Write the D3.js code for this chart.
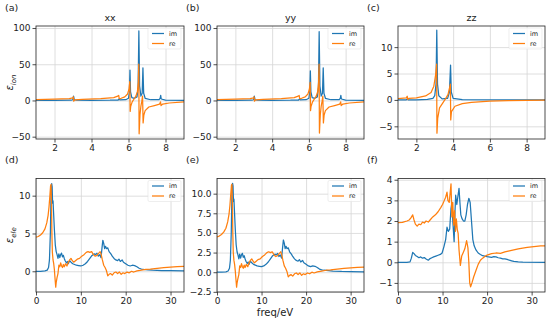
<!DOCTYPE html>
<html>
<head>
<meta charset="utf-8">
<script src="https://cdn.jsdelivr.net/npm/d3@7"></script>
<style>
  body { margin: 0; background: #fff; }
  svg { font-family: "DejaVu Sans", sans-serif; }
  .tick text { fill: #222; font-size: 9px; }
  .grid line { stroke: #d6d6d6; stroke-width: 0.8; }
  .grid path { display: none; }
</style>
</head>
<body>
<div id="chart"></div>
<script>
// ionic part, xx direction  [freq (eV), value]
var ionXXim = [[1,0.1],[2,0.15],[2.9,0.3],[2.99,1],[3.03,6],[3.07,1],[3.2,0.3],[4,0.2],[5,0.3],[5.44,0.6],[5.49,2],[5.54,0.7],[5.85,1],[6.0,3],[6.05,12],[6.08,42],[6.11,12],[6.18,4],[6.32,3],[6.46,5],[6.52,18],[6.56,96],[6.6,20],[6.67,6],[6.74,10],[6.78,45],[6.82,10],[6.9,3],[7.2,1],[7.65,1],[7.71,3],[7.74,7],[7.77,2],[8,0.5],[9,0.2]];
var ionXXre = [[1,1.2],[2,1.8],[2.8,2.5],[2.99,3.5],[3.02,5],[3.04,-1],[3.1,0.8],[3.5,1.5],[4.5,2.5],[5.2,4],[5.42,6],[5.47,7],[5.5,2.5],[5.6,3],[5.8,5],[5.95,9],[6.03,16],[6.07,26],[6.09,-15],[6.12,-8],[6.2,-2],[6.3,2],[6.4,6],[6.48,12],[6.53,25],[6.555,50],[6.575,-46],[6.62,-20],[6.67,-8],[6.72,-1],[6.76,6],[6.79,-31],[6.83,-20],[6.9,-14],[7.1,-9],[7.4,-7],[7.68,-5],[7.73,-2],[7.76,-7],[7.85,-5],[8.2,-3.5],[9,-2]];

// ionic part, yy direction
var ionYYim = [[1,0.1],[2,0.15],[2.9,0.3],[2.99,1],[3.03,6],[3.07,1],[3.2,0.3],[4,0.2],[5,0.3],[5.44,0.6],[5.49,2],[5.54,0.7],[5.85,1],[6.0,3],[6.05,12],[6.08,41],[6.11,12],[6.18,4],[6.32,3],[6.46,5],[6.52,18],[6.56,95],[6.6,20],[6.67,6],[6.74,10],[6.78,45],[6.82,10],[6.9,3],[7.2,1],[7.65,1],[7.71,3],[7.74,7],[7.77,2],[8,0.5],[9,0.2]];
var ionYYre = [[1,1.2],[2,1.8],[2.8,2.5],[2.99,3.5],[3.02,5],[3.04,-1],[3.1,0.8],[3.5,1.5],[4.5,2.5],[5.2,4],[5.42,6],[5.47,7],[5.5,2.5],[5.6,3],[5.8,5],[5.95,9],[6.03,16],[6.07,25],[6.09,-14],[6.12,-8],[6.2,-2],[6.3,2],[6.4,6],[6.48,12],[6.53,25],[6.555,50],[6.575,-45],[6.62,-20],[6.67,-8],[6.72,-1],[6.76,6],[6.79,-31],[6.83,-20],[6.9,-14],[7.1,-9],[7.4,-7],[7.68,-5],[7.73,-2],[7.76,-7],[7.85,-5],[8.2,-3.5],[9,-2]];

// ionic part, zz direction
var ionZZim = [[1,0],[1.45,0.02],[1.5,0.2],[1.55,0.02],[2,0.03],[2.6,0.1],[2.9,0.3],[3.0,0.8],[3.07,3],[3.11,13.2],[3.15,3],[3.22,0.8],[3.4,0.2],[3.7,0.3],[3.8,1.5],[3.86,6.6],[3.9,1.5],[4.0,0.3],[4.5,0.05],[9,0]];
var ionZZre = [[1,0.25],[1.45,0.4],[1.5,0.7],[1.53,0.1],[1.6,0.3],[2,0.4],[2.5,0.75],[2.8,1.4],[2.95,2.6],[3.05,4.8],[3.1,6.8],[3.12,-6.3],[3.16,-3.5],[3.26,-1.5],[3.45,-0.5],[3.6,0.3],[3.72,1],[3.8,2.2],[3.85,3],[3.87,-3.8],[3.91,-2.2],[4.1,-1.2],[4.5,-0.7],[5,-0.45],[6,-0.25],[7,-0.15],[8,-0.1],[9,-0.05]];

// electronic part, xx direction
var eleXXim = [[0,0],[1,0],[2,0.05],[2.5,0.15],[2.8,0.5],[3.0,1.5],[3.2,5],[3.35,10],[3.5,11.6],[3.6,11.2],[3.7,9],[3.8,9.3],[3.9,8],[4.1,5.5],[4.3,3.5],[4.5,2.6],[4.7,2.2],[4.9,1.7],[5.1,2.3],[5.3,1.8],[5.5,2.2],[5.7,2.4],[5.9,1.9],[6.1,2.1],[6.3,1.7],[6.5,1.4],[6.8,1.1],[7.0,1.3],[7.2,1.0],[7.5,1.4],[7.8,1.2],[8.2,1.0],[8.6,0.9],[9.0,0.8],[9.5,0.75],[10,0.7],[10.5,0.8],[11,1.0],[11.5,1.3],[12,1.7],[12.5,2.1],[13,2.3],[13.3,2.2],[13.6,2.4],[13.9,2.0],[14.2,2.2],[14.5,1.8],[14.7,3.0],[14.9,4.1],[15.1,3.7],[15.3,3.0],[15.5,3.3],[15.7,3.0],[16.0,3.1],[16.3,2.6],[16.7,2.3],[17.0,2.0],[17.4,1.7],[17.8,1.5],[18.2,1.4],[18.5,1.6],[18.8,1.3],[19.2,1.5],[19.5,1.2],[20,1.0],[20.5,0.8],[21,0.7],[21.5,0.8],[22,0.75],[22.5,0.6],[23,0.4],[23.5,0.3],[24,0.25],[25,0.2],[26,0.15],[28,0.1],[30,0.08],[33,0.05]];
var eleXXre = [[0,4.5],[0.5,4.6],[1,4.8],[1.5,5.1],[2,5.6],[2.4,6.4],[2.7,7.4],[2.9,8.5],[3.1,10],[3.25,11.3],[3.35,11.5],[3.45,9],[3.55,5],[3.65,2.5],[3.8,1.5],[3.95,1.0],[4.1,0.2],[4.25,-1.0],[4.4,-2.1],[4.5,-1.5],[4.7,-0.8],[4.9,-0.3],[5.1,0.8],[5.3,0.6],[5.5,1.1],[5.7,0.7],[5.9,0.5],[6.1,0.9],[6.3,0.6],[6.6,1.0],[6.9,0.7],[7.2,1.2],[7.5,1.5],[7.8,1.7],[8.1,1.4],[8.4,1.2],[8.8,1.4],[9.2,1.6],[9.7,1.7],[10.2,2.0],[10.7,2.2],[11.2,2.5],[11.6,2.6],[12,2.5],[12.4,2.6],[12.8,2.2],[13.2,2.0],[13.6,2.1],[14.0,2.4],[14.3,2.6],[14.5,2.3],[14.8,1.5],[15.1,0.8],[15.4,0.5],[15.7,0.1],[16.0,-0.6],[16.3,-0.4],[16.6,-0.3],[17,-0.5],[17.4,-0.2],[17.8,-0.1],[18.2,-0.3],[18.6,-0.1],[19,-0.4],[19.4,-0.2],[19.8,-0.3],[20.3,-0.1],[20.8,-0.2],[21.3,0.0],[21.8,-0.1],[22.5,0.05],[23.5,0.15],[24.5,0.25],[25.5,0.3],[27,0.4],[28.5,0.48],[30,0.55],[31.5,0.6],[33,0.65]];

// electronic part, yy direction
var eleYYim = [[0,0],[1,0],[2,0.05],[2.5,0.15],[2.8,0.5],[3.0,1.5],[3.2,5],[3.35,10],[3.5,11.3],[3.6,11.0],[3.7,9],[3.8,9.3],[3.9,8],[4.1,5.5],[4.3,3.5],[4.5,2.6],[4.7,2.2],[4.9,1.7],[5.1,2.3],[5.3,1.8],[5.5,2.2],[5.7,2.4],[5.9,1.9],[6.1,2.1],[6.3,1.7],[6.5,1.4],[6.8,1.1],[7.0,1.3],[7.2,1.0],[7.5,1.4],[7.8,1.2],[8.2,1.0],[8.6,0.9],[9.0,0.8],[9.5,0.75],[10,0.7],[10.5,0.8],[11,1.0],[11.5,1.3],[12,1.7],[12.5,2.1],[13,2.3],[13.3,2.2],[13.6,2.4],[13.9,2.0],[14.2,2.2],[14.5,1.8],[14.7,3.0],[14.9,4.1],[15.1,3.7],[15.3,3.0],[15.5,3.3],[15.7,3.0],[16.0,3.1],[16.3,2.6],[16.7,2.3],[17.0,2.0],[17.4,1.7],[17.8,1.5],[18.2,1.4],[18.5,1.6],[18.8,1.3],[19.2,1.5],[19.5,1.2],[20,1.0],[20.5,0.8],[21,0.7],[21.5,0.8],[22,0.75],[22.5,0.6],[23,0.4],[23.5,0.3],[24,0.25],[25,0.2],[26,0.15],[28,0.1],[30,0.08],[33,0.05]];
var eleYYre = [[0,4.5],[0.5,4.6],[1,4.8],[1.5,5.1],[2,5.6],[2.4,6.4],[2.7,7.4],[2.9,8.5],[3.1,10],[3.25,11.1],[3.35,11.2],[3.45,9],[3.55,5],[3.65,2.5],[3.8,1.5],[3.95,1.0],[4.1,0.2],[4.25,-0.9],[4.4,-1.9],[4.5,-1.4],[4.7,-0.8],[4.9,-0.3],[5.1,0.8],[5.3,0.6],[5.5,1.1],[5.7,0.7],[5.9,0.5],[6.1,0.9],[6.3,0.6],[6.6,1.0],[6.9,0.7],[7.2,1.2],[7.5,1.5],[7.8,1.7],[8.1,1.4],[8.4,1.2],[8.8,1.4],[9.2,1.6],[9.7,1.7],[10.2,2.0],[10.7,2.2],[11.2,2.5],[11.6,2.6],[12,2.5],[12.4,2.6],[12.8,2.2],[13.2,2.0],[13.6,2.1],[14.0,2.4],[14.3,2.6],[14.5,2.3],[14.8,1.5],[15.1,0.8],[15.4,0.5],[15.7,0.1],[16.0,-0.6],[16.3,-0.4],[16.6,-0.3],[17,-0.5],[17.4,-0.2],[17.8,-0.1],[18.2,-0.3],[18.6,-0.1],[19,-0.4],[19.4,-0.2],[19.8,-0.3],[20.3,-0.1],[20.8,-0.2],[21.3,0.0],[21.8,-0.1],[22.5,0.05],[23.5,0.15],[24.5,0.25],[25.5,0.3],[27,0.4],[28.5,0.48],[30,0.55],[31.5,0.6],[33,0.65]];

// electronic part, zz direction
var eleZZim = [[0,0],[1,0],[2,0],[2.7,0.02],[3.0,0.2],[3.3,0.48],[3.6,0.42],[3.9,0.33],[4.3,0.28],[4.7,0.22],[5.1,0.26],[5.5,0.2],[5.9,0.23],[6.3,0.16],[6.8,0.1],[7.2,0.18],[7.6,0.22],[8.0,0.26],[8.5,0.3],[9.0,0.34],[9.5,0.38],[9.9,0.45],[10.3,0.75],[10.7,1.1],[11.0,1.7],[11.3,1.5],[11.6,1.6],[11.9,2.6],[12.1,2.9],[12.3,2.0],[12.6,1.0],[12.8,2.5],[12.95,3.25],[13.2,2.8],[13.45,3.2],[13.7,3.58],[13.9,2.9],[14.1,2.3],[14.4,2.1],[14.7,2.0],[15.0,2.0],[15.3,2.3],[15.6,2.8],[15.9,3.1],[16.2,2.9],[16.5,2.0],[16.8,1.1],[17.1,0.8],[17.5,0.6],[18.0,0.45],[18.5,0.38],[19,0.32],[19.5,0.3],[20,0.27],[21,0.24],[21.5,0.27],[22,0.26],[22.5,0.22],[23,0.2],[23.5,0.17],[24,0.16],[24.5,0.14],[25,0.1],[25.5,0.07],[26,0.04],[27,0.02],[28,0.01],[33,0.0]];
var eleZZre = [[0,1.92],[1,1.93],[2,2.0],[2.5,2.05],[2.9,2.15],[3.3,2.3],[3.6,2.05],[3.9,1.85],[4.3,1.75],[4.7,1.85],[5.1,1.82],[5.5,1.95],[5.9,1.9],[6.3,2.0],[6.8,1.95],[7.2,2.05],[7.8,2.2],[8.4,2.3],[9.0,2.45],[9.6,2.65],[10.0,2.8],[10.4,3.0],[10.7,3.15],[11.0,3.4],[11.2,3.0],[11.5,2.9],[11.9,3.8],[12.1,2.2],[12.3,2.9],[12.5,1.8],[12.7,2.5],[12.9,1.5],[13.1,2.1],[13.3,1.6],[13.5,1.4],[13.7,0.6],[14.0,-0.15],[14.3,0.3],[14.7,0.5],[15.0,0.65],[15.4,1.05],[15.7,0.7],[15.9,0.0],[16.1,-1.0],[16.3,-1.19],[16.6,-1.0],[17.0,-0.7],[17.5,-0.4],[18.0,-0.1],[18.5,0.1],[19.0,0.2],[19.5,0.28],[20.0,0.35],[21.0,0.42],[22.0,0.45],[23.0,0.43],[24.0,0.5],[25.0,0.55],[26.0,0.6],[27.0,0.65],[28.0,0.69],[29.0,0.72],[30.0,0.75],[31.0,0.77],[32.0,0.79],[33.0,0.8]];

var panelLabels = ["(a)", "(b)", "(c)", "(d)", "(e)", "(f)"];
var panelTitles = ["xx", "yy", "zz", "", "", ""];
var seriesNames = ["im", "re"];
var seriesColors = ["#1f77b4", "#ff7f0e"];

var width = 550, height = 321;
var svg = d3.select("#chart").append("svg")
    .attr("width", width)
    .attr("height", height);

var colLeft = [36, 217, 398];
var colRight = [184, 364, 545];
var rowTop = [26, 178.5];
var rowBottom = [139, 292];

var panels = [
    {im: ionXXim, re: ionXXre, xdom: [1, 9], ydom: [-53.2, 102.8], xt: [2,4,6,8], yt: [-50,0,50,100], fmt: "d"},
    {im: ionYYim, re: ionYYre, xdom: [1, 9], ydom: [-53.2, 102.8], xt: [2,4,6,8], yt: [-50,0,50,100], fmt: "d"},
    {im: ionZZim, re: ionZZre, xdom: [1, 9], ydom: [-7.4, 14.0], xt: [2,4,6,8], yt: [-5,0,5,10], fmt: "d"},
    {im: eleXXim, re: eleXXre, xdom: [0, 33], ydom: [-2.74, 12.27], xt: [0,10,20,30], yt: [0,5,10], fmt: "d"},
    {im: eleYYim, re: eleYYre, xdom: [0, 33], ydom: [-2.52, 11.93], xt: [0,10,20,30], yt: [-2.5,0,2.5,5,7.5,10], fmt: ".1f"},
    {im: eleZZim, re: eleZZre, xdom: [0, 33], ydom: [-1.44, 4.06], xt: [0,10,20,30], yt: [-1,0,1,2,3,4], fmt: "d"}
];

panels.forEach(function(p, i){
    var col = i % 3, row = Math.floor(i / 3);
    var x0 = colLeft[col], x1 = colRight[col];
    var y0 = rowTop[row], y1 = rowBottom[row];

    var x = d3.scaleLinear().domain(p.xdom).range([x0, x1]);
    var y = d3.scaleLinear().domain(p.ydom).range([y1, y0]);

    var g = svg.append("g");

    //grid lines
    g.append("g").attr("class", "grid")
        .attr("transform", "translate(0," + y1 + ")")
        .call(d3.axisBottom(x).tickValues(p.xt).tickSize(-(y1 - y0)).tickFormat(""));
    g.append("g").attr("class", "grid")
        .attr("transform", "translate(" + x0 + ",0)")
        .call(d3.axisLeft(y).tickValues(p.yt).tickSize(-(x1 - x0)).tickFormat(""));

    //curves
    var clipId = "clip" + i;
    g.append("clipPath").attr("id", clipId)
        .append("rect")
        .attr("x", x0).attr("y", y0)
        .attr("width", x1 - x0).attr("height", y1 - y0);

    var line = d3.line()
        .x(function(d){ return x(d[0]); })
        .y(function(d){ return y(d[1]); });

    [p.im, p.re].forEach(function(s, k){
        g.append("path")
            .datum(s)
            .attr("clip-path", "url(#" + clipId + ")")
            .attr("fill", "none")
            .attr("stroke", seriesColors[k])
            .attr("stroke-width", 1.25)
            .attr("stroke-linejoin", "round")
            .attr("d", line);
    });

    //axes
    var xAxis = g.append("g")
        .attr("transform", "translate(0," + y1 + ")")
        .call(d3.axisBottom(x).tickValues(p.xt).tickSize(3.5).tickPadding(2).tickFormat(d3.format("d")));
    var yAxis = g.append("g")
        .attr("transform", "translate(" + x0 + ",0)")
        .call(d3.axisLeft(y).tickValues(p.yt).tickSize(3.5).tickPadding(2).tickFormat(d3.format(p.fmt)));
    [xAxis, yAxis].forEach(function(a){
        a.select(".domain").remove();
        a.selectAll(".tick line").attr("stroke", "#222").attr("stroke-width", 0.8);
        a.attr("font-family", null).attr("font-size", null);
    });

    //frame
    g.append("rect")
        .attr("x", x0).attr("y", y0)
        .attr("width", x1 - x0).attr("height", y1 - y0)
        .attr("fill", "none")
        .attr("stroke", "#222")
        .attr("stroke-width", 0.8);

    //title
    if (panelTitles[i] != "") {
        g.append("text")
            .attr("x", (x0 + x1) / 2)
            .attr("y", y0 - 5)
            .attr("text-anchor", "middle")
            .attr("font-size", 9.5)
            .attr("fill", "#222")
            .text(panelTitles[i]);
    }

    //panel label
    g.append("text")
        .attr("x", x0 - 31)
        .attr("y", y0 - 15.5)
        .attr("font-size", 9.5)
        .attr("fill", "#222")
        .text(panelLabels[i]);

    //legend
    var lg = g.append("g");
    lg.append("rect")
        .attr("x", x1 - 36).attr("y", y0 + 2)
        .attr("width", 33).attr("height", 21)
        .attr("rx", 1.5)
        .attr("fill", "#fff").attr("fill-opacity", 0.8)
        .attr("stroke", "#e2e2e2").attr("stroke-width", 0.6);
    seriesNames.forEach(function(name, k){
        var ly = y0 + 7.5 + k * 10;
        lg.append("line")
            .attr("x1", x1 - 32).attr("x2", x1 - 20)
            .attr("y1", ly).attr("y2", ly)
            .attr("stroke", seriesColors[k])
            .attr("stroke-width", 1.25);
        lg.append("text")
            .attr("x", x1 - 15)
            .attr("y", ly + 2.3)
            .attr("font-size", 6.5)
            .attr("fill", "#222")
            .text(name);
    });
});

// y labels
function yLabel(sub, cx, cy){
    var t = svg.append("text")
        .attr("transform", "translate(" + cx + "," + cy + ") rotate(-90)")
        .attr("text-anchor", "middle")
        .attr("font-size", 10)
        .attr("fill", "#222");
    t.append("tspan").attr("font-style", "italic").text("ε");
    t.append("tspan").attr("font-style", "italic").attr("font-size", 7).attr("dy", 2.5).text(sub);
}
yLabel("ion", 13, (rowTop[0] + rowBottom[0]) / 2);
yLabel("ele", 13, (rowTop[1] + rowBottom[1]) / 2);

// shared x label
svg.append("text")
    .attr("x", width / 2)
    .attr("y", 316)
    .attr("text-anchor", "middle")
    .attr("font-size", 10)
    .attr("fill", "#222")
    .text("freq/eV");
</script>
</body>
</html>
